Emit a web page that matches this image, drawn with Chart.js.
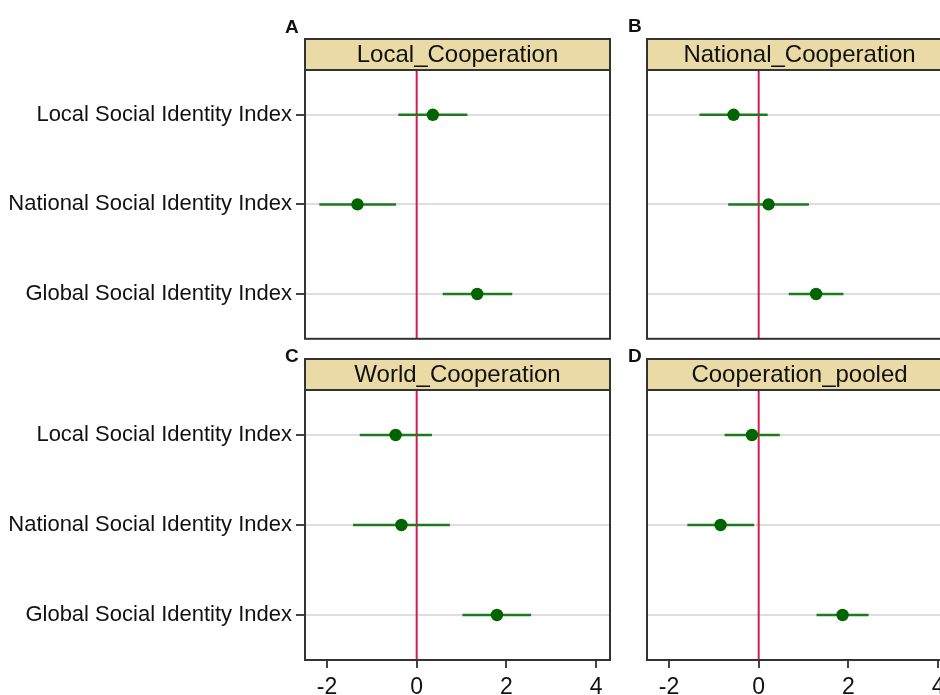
<!DOCTYPE html>
<html>
<head>
<meta charset="utf-8">
<script src="https://cdn.jsdelivr.net/npm/chart.js@4.4.1/dist/chart.umd.min.js"></script>
<style>
  html, body { margin: 0; padding: 0; background: #ffffff; width: 940px; height: 695px; overflow: hidden; }
  .wrap { position: relative; width: 940px; height: 695px; overflow: hidden; }
  canvas { position: absolute; }
</style>
</head>
<body>
<div class="wrap">
  <canvas id="cA" width="620" height="345" style="left:0px;top:0px;"></canvas>
  <canvas id="cB" width="342" height="345" style="left:620px;top:0px;"></canvas>
  <canvas id="cC" width="620" height="375" style="left:0px;top:320px;"></canvas>
  <canvas id="cD" width="342" height="375" style="left:620px;top:320px;"></canvas>
</div>
<script>
// ---------- DATA ----------
const categories = ['Local Social Identity Index', 'National Social Identity Index', 'Global Social Identity Index'];
const panelTitles = ['Local_Cooperation', 'National_Cooperation', 'World_Cooperation', 'Cooperation_pooled'];
const panelLetters = ['A', 'B', 'C', 'D'];
const xTicks = [-2, 0, 2, 4];

// Panel A: Local_Cooperation
const localCoopEst = [0.36, -1.32, 1.35];
const localCoopLo  = [-0.41, -2.17, 0.58];
const localCoopHi  = [1.13, -0.46, 2.13];
// Panel B: National_Cooperation
const nationalCoopEst = [-0.56, 0.22, 1.28];
const nationalCoopLo  = [-1.32, -0.68, 0.67];
const nationalCoopHi  = [0.20, 1.12, 1.89];
// Panel C: World_Cooperation
const worldCoopEst = [-0.47, -0.34, 1.79];
const worldCoopLo  = [-1.27, -1.42, 1.02];
const worldCoopHi  = [0.34, 0.74, 2.55];
// Panel D: Cooperation_pooled
const pooledCoopEst = [-0.15, -0.85, 1.87];
const pooledCoopLo  = [-0.76, -1.59, 1.29];
const pooledCoopHi  = [0.47, -0.10, 2.45];

// ---------- STYLE ----------
const FONT = "'Liberation Sans', Arial, Helvetica, sans-serif";
const X_MIN = -2.49, X_MAX = 4.31;
const STRIP_FILL = '#E9DAA6';
const FRAME = '#333333';
const ZERO_COLOR = '#D21E4E';
const CI_COLOR = '#1E7A1E';
const PT_COLOR = '#006400';
const GRID_COLOR = '#DEDEDE';

function buildDatasets(est, lo, hi) {
  const ds = [];
  ds.push({
    type: 'scatter',
    data: est.map((v, i) => ({ x: v, y: i + 1 })),
    pointRadius: 6.2,
    pointBackgroundColor: PT_COLOR,
    pointBorderWidth: 0,
    showLine: false,
    order: 0
  });
  for (let i = 0; i < categories.length; i++) {
    ds.push({
      type: 'scatter',
      data: [{ x: lo[i], y: i + 1 }, { x: hi[i], y: i + 1 }],
      showLine: true,
      borderColor: CI_COLOR,
      borderWidth: 2.5,
      pointRadius: 0,
      order: 1
    });
  }
  return ds;
}

const panelPlugin = {
  id: 'panelDecor',
  beforeDatasetsDraw(chart, args, opts) {
    const { ctx, chartArea: a, scales } = chart;
    const x0 = scales.x.getPixelForValue(0);
    ctx.save();
    ctx.strokeStyle = ZERO_COLOR;
    ctx.lineWidth = 2;
    ctx.beginPath();
    ctx.moveTo(x0, a.top);
    ctx.lineTo(x0, a.bottom);
    ctx.stroke();
    ctx.restore();
  },
  afterDraw(chart, args, opts) {
    const { ctx, chartArea: a } = chart;
    ctx.save();
    // frame
    ctx.strokeStyle = FRAME;
    ctx.lineWidth = 2;
    ctx.strokeRect(a.left, a.top, a.right - a.left, a.bottom - a.top);
    // strip header
    const h = 31;
    ctx.fillStyle = STRIP_FILL;
    ctx.fillRect(a.left, a.top - h, a.right - a.left, h);
    ctx.strokeRect(a.left, a.top - h, a.right - a.left, h);
    ctx.fillStyle = '#111111';
    ctx.font = '24px ' + FONT;
    ctx.textAlign = 'center';
    ctx.textBaseline = 'alphabetic';
    ctx.fillText(opts.title, (a.left + a.right) / 2, a.top - 8);
    // panel letter
    ctx.font = 'bold 19px ' + FONT;
    ctx.textAlign = 'left';
    ctx.fillText(opts.letter, opts.letterX, opts.letterY);
    ctx.restore();
  }
};

function makePanel(canvasId, idx, est, lo, hi, isLeft, isBottom, letterX, letterY) {
  const ctx = document.getElementById(canvasId).getContext('2d');
  return new Chart(ctx, {
    type: 'scatter',
    data: { datasets: buildDatasets(est, lo, hi) },
    plugins: [panelPlugin],
    options: {
      responsive: false,
      animation: false,
      events: [],
      layout: { padding: { top: 70, right: 10, bottom: isBottom ? 0 : 5, left: 0 } },
      plugins: {
        legend: { display: false },
        tooltip: { enabled: false },
        panelDecor: { title: panelTitles[idx], letter: panelLetters[idx], letterX: letterX, letterY: letterY }
      },
      scales: {
        x: {
          type: 'linear',
          min: X_MIN,
          max: X_MAX,
          display: isBottom,
          afterBuildTicks: (s) => { s.ticks = xTicks.map(v => ({ value: v })); },
          afterFit: (s) => { s.height = isBottom ? 35 : 0; s.paddingLeft = 0; s.paddingRight = 0; },
          border: { display: false },
          grid: { drawOnChartArea: false, drawTicks: true, tickLength: 8, tickColor: '#444444', lineWidth: 2 },
          ticks: { color: '#111111', font: { family: FONT, size: 23 }, padding: 6, autoSkip: false, maxRotation: 0 }
        },
        y: {
          type: 'linear',
          min: 0.5,
          max: 3.5,
          reverse: true,
          afterBuildTicks: (s) => { s.ticks = categories.map((_, i) => ({ value: i + 1 })); },
          afterFit: (s) => { s.width = isLeft ? 305 : 27; s.paddingTop = 0; s.paddingBottom = 0; },
          border: { display: false },
          grid: { color: GRID_COLOR, lineWidth: 2, drawTicks: isLeft, tickLength: 9, tickColor: '#444444' },
          ticks: {
            display: isLeft,
            autoSkip: false,
            color: '#111111',
            font: { family: FONT, size: 22 },
            padding: 4,
            callback: (v) => categories[v - 1]
          }
        }
      }
    }
  });
}

makePanel('cA', 0, localCoopEst, localCoopLo, localCoopHi, true, false, 285, 33);
makePanel('cB', 1, nationalCoopEst, nationalCoopLo, nationalCoopHi, false, false, 8, 32);
makePanel('cC', 2, worldCoopEst, worldCoopLo, worldCoopHi, true, true, 285, 41.5);
makePanel('cD', 3, pooledCoopEst, pooledCoopLo, pooledCoopHi, false, true, 8, 41.5);
</script>
</body>
</html>
